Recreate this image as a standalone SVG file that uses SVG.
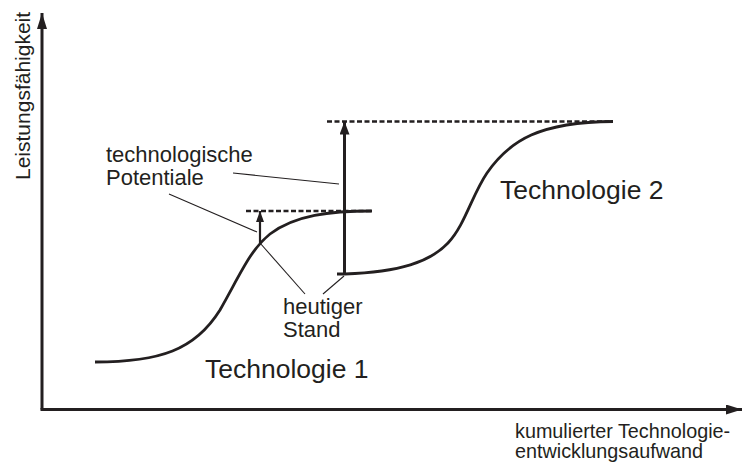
<svg xmlns="http://www.w3.org/2000/svg" width="744" height="464" viewBox="0 0 744 464">
  <style>
    .ink { stroke: #231f20; fill: none; }
    .axis { stroke-width: 3; }
    .curve { stroke-width: 2.8; }
    .dash { stroke-width: 2.3; stroke-dasharray: 5 2.5; }
    .leader { stroke-width: 1.1; }
    text { font-family: "Liberation Sans", Arial, sans-serif; fill: #231f20; }
    .big { font-size: 26.5px; }
    .mid { font-size: 22px; }
    .small { font-size: 19.8px; }
  </style>
  <defs>
    <marker id="headAxis" viewBox="0 0 16 10" refX="16" refY="5" markerWidth="16" markerHeight="10" markerUnits="userSpaceOnUse" orient="auto">
      <path d="M0,0 L16,5 L0,10 z" fill="#231f20"/>
    </marker>
    <marker id="headBig" viewBox="0 0 13 10" refX="13" refY="5" markerWidth="13" markerHeight="10" markerUnits="userSpaceOnUse" orient="auto">
      <path d="M0,0 L13,5 L0,10 z" fill="#231f20"/>
    </marker>
    <marker id="headSmall" viewBox="0 0 11 8" refX="11" refY="4" markerWidth="11" markerHeight="8" markerUnits="userSpaceOnUse" orient="auto">
      <path d="M0,0 L11,4 L0,8 z" fill="#231f20"/>
    </marker>
  </defs>

  <!-- coordinate axes -->
  <g id="axes">
    <path class="ink axis" d="M42,409.5 L42,13" marker-end="url(#headAxis)"/>
    <path class="ink axis" d="M40.5,409.5 L742,409.5" marker-end="url(#headAxis)"/>
    <text style="font-size:21px" transform="translate(30,180) rotate(-90)">Leistungsfähigkeit</text>
    <text class="small" x="515" y="437.5">kumulierter Technologie-</text>
    <text class="small" x="515" y="457.5">entwicklungsaufwand</text>
  </g>

  <!-- limits of both technologies -->
  <g id="limits">
    <line class="ink dash" x1="246" y1="211" x2="372" y2="211"/>
    <line class="ink dash" x1="327" y1="121.5" x2="612" y2="121.5"/>
  </g>

  <!-- S-curve of technology 1 -->
  <g id="technologie1">
    <path class="ink curve" d="M95,362 C160,362 195,350 220,310 C240,275 250,250 270,234 C295,215 330,211 372,211"/>
    <text class="big" x="205" y="378">Technologie 1</text>
  </g>

  <!-- S-curve of technology 2 -->
  <g id="technologie2">
    <path class="ink curve" d="M337,274 L345,274 C400,272 430,262 448,243 C465,225 472,195 487,173 C510,140 540,122 613,121.5"/>
    <text class="big" x="500" y="199">Technologie 2</text>
  </g>

  <!-- remaining potentials -->
  <g id="potentiale">
    <path class="ink" stroke-width="2.2" d="M260,243 L260,211" marker-end="url(#headSmall)"/>
    <path class="ink" stroke-width="3" d="M344.5,274 L344.5,121.5" marker-end="url(#headBig)"/>
    <text class="mid" x="106" y="162">technologische</text>
    <text class="mid" x="106" y="185">Potentiale</text>
  </g>

  <!-- current state -->
  <g id="stand">
    <text class="mid" x="283" y="314">heutiger</text>
    <text class="mid" x="283" y="337">Stand</text>
  </g>

  <!-- leader lines from the labels -->
  <g id="connectors">
    <line class="ink leader" x1="169" y1="194" x2="257" y2="232"/>
    <line class="ink leader" x1="233" y1="173" x2="339" y2="184"/>
    <line class="ink leader" x1="260" y1="243" x2="305" y2="294"/>
    <line class="ink leader" x1="323" y1="294" x2="344" y2="276"/>
  </g>
</svg>
